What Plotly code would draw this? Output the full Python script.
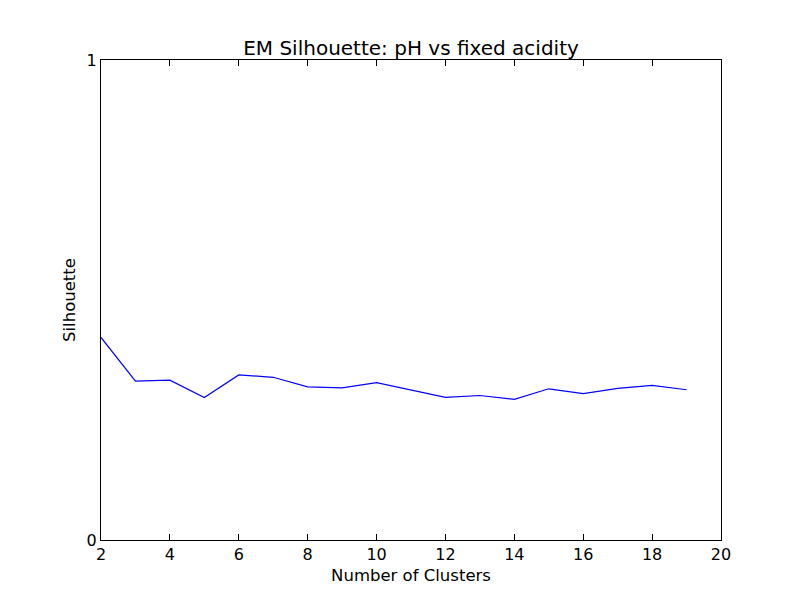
import plotly.graph_objects as go

# Silhouette score per number of clusters
clusters = list(range(2, 20))
silhouette = [0.422, 0.331, 0.333, 0.297, 0.344, 0.339, 0.319, 0.317, 0.328,
              0.312, 0.297, 0.301, 0.293, 0.315, 0.305, 0.316, 0.322, 0.313]

x_ticks = list(range(2, 21, 2))
y_ticks = [0, 1]

trace = go.Scatter(x=clusters, y=silhouette, mode='lines',
                   line=dict(color='blue', width=1.2), showlegend=False)

axis_style = dict(showline=True, linecolor='black', linewidth=1, mirror='ticks',
                  ticks='inside', ticklen=6, tickcolor='black', showgrid=False,
                  zeroline=False, tickfont=dict(size=16, color='black'))

# the page body adds a few px offset, so margins are shifted to compensate
layout = go.Layout(
    width=800, height=600,
    font=dict(family='DejaVu Sans', color='black'),
    paper_bgcolor='white', plot_bgcolor='white',
    margin=dict(l=93, r=87, t=52, b=68),
    title=dict(text='EM Silhouette: pH vs fixed acidity', x=(93 + 310) / 800, xanchor='center',
               y=1 - 40 / 600, yanchor='middle', font=dict(size=20)),
    xaxis=dict(title=dict(text='Number of Clusters', font=dict(size=16.5), standoff=6),
               range=[2, 20], tickvals=x_ticks, **axis_style),
    yaxis=dict(title=dict(text='Silhouette', font=dict(size=16.5), standoff=6),
               range=[0, 1], tickvals=y_ticks, **axis_style),
)

fig = go.Figure(data=[trace], layout=layout)
fig.write_html('out.html')
